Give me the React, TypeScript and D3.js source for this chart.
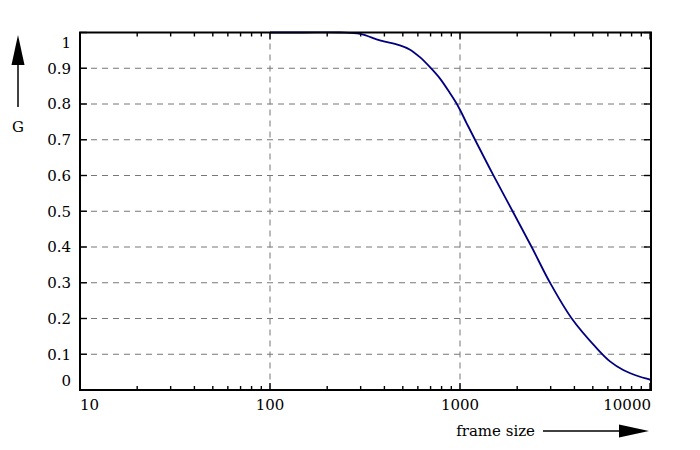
import React, { useEffect, useRef } from "react";
import * as d3 from "d3";

// frame size vs G
const frameSize = [100, 150, 234, 298, 379, 483, 546, 615, 695, 785, 886, 979, 1084, 1224, 1497, 1892, 2383, 2977, 3873, 5236, 6155, 7228, 8855, 10000, 10120];
const gain = [1.0, 1.0, 1.0, 0.996, 0.978, 0.964, 0.952, 0.931, 0.903, 0.871, 0.83, 0.793, 0.746, 0.691, 0.601, 0.5, 0.4, 0.3, 0.2, 0.117, 0.08, 0.056, 0.037, 0.029, 0.027];

const yTicks = [0, 0.1, 0.2, 0.3, 0.4, 0.5, 0.6, 0.7, 0.8, 0.9, 1];
const xMajor = [10, 100, 1000, 10000];
const xLabels = ["10", "100", "1000", "10000"];

const App: React.FC = () => {
  const svgRef = useRef<SVGSVGElement | null>(null);

  useEffect(() => {
    const width = 700;
    const height = 450;
    const left = 80;
    const right = 651;
    const top = 32.5;
    const bottom = 390;
    const font = "'DejaVu Serif', 'Liberation Serif', serif";

    const x = d3.scaleLog().domain([10, 10120]).range([left, right]);
    const y = d3.scaleLinear().domain([0, 1]).range([bottom, top]);

    const svg = d3
      .select(svgRef.current)
      .attr("width", width)
      .attr("height", height)
      .attr("viewBox", [0, 0, width, height].join(" "));
    svg.selectAll("*").remove();

    svg.append("rect").attr("width", width).attr("height", height).attr("fill", "white");

    // grid
    const grid = svg.append("g").attr("stroke", "#777").attr("stroke-width", 1).attr("stroke-dasharray", "6,5");
    grid
      .selectAll(".gy")
      .data(yTicks.filter((t) => t > 0 && t < 1))
      .enter()
      .append("line")
      .attr("x1", left)
      .attr("x2", right)
      .attr("y1", (d) => y(d))
      .attr("y2", (d) => y(d));
    grid
      .selectAll(".gx")
      .data([100, 1000])
      .enter()
      .append("line")
      .attr("x1", (d) => x(d))
      .attr("x2", (d) => x(d))
      .attr("y1", top)
      .attr("y2", bottom);

    // ticks (inward, on all four sides)
    const minor: number[] = [];
    [10, 100, 1000].forEach((dec) => {
      for (let k = 2; k <= 9; k++) minor.push(dec * k);
    });
    const ticks = svg.append("g").attr("stroke", "black").attr("stroke-width", 1.4);
    minor.forEach((m) => {
      ticks.append("line").attr("x1", x(m)).attr("x2", x(m)).attr("y1", bottom).attr("y2", bottom - 4);
      ticks.append("line").attr("x1", x(m)).attr("x2", x(m)).attr("y1", top).attr("y2", top + 4);
    });
    xMajor.forEach((m) => {
      ticks.append("line").attr("x1", x(m)).attr("x2", x(m)).attr("y1", bottom).attr("y2", bottom - 7);
      ticks.append("line").attr("x1", x(m)).attr("x2", x(m)).attr("y1", top).attr("y2", top + 7);
    });
    yTicks.forEach((t) => {
      ticks.append("line").attr("x1", left).attr("x2", left + 7).attr("y1", y(t)).attr("y2", y(t));
      ticks.append("line").attr("x1", right).attr("x2", right - 7).attr("y1", y(t)).attr("y2", y(t));
    });

    // curve
    const line = d3
      .line<number>()
      .x((d) => x(d))
      .y((_, i) => y(gain[i]))
      .curve(d3.curveCatmullRom.alpha(0.5));
    svg
      .append("path")
      .datum(frameSize)
      .attr("d", line)
      .attr("fill", "none")
      .attr("stroke", "#000080")
      .attr("stroke-width", 1.8);

    // frame
    svg
      .append("rect")
      .attr("x", left)
      .attr("y", top)
      .attr("width", right - left)
      .attr("height", bottom - top)
      .attr("fill", "none")
      .attr("stroke", "black")
      .attr("stroke-width", 2);

    // y labels
    svg
      .append("g")
      .selectAll("text")
      .data(yTicks)
      .enter()
      .append("text")
      .attr("x", 71)
      .attr("y", (d) => y(d) + (d === 1 ? 10 : d === 0 ? -9 : 0))
      .attr("dy", "0.35em")
      .attr("text-anchor", "end")
      .attr("font-family", font)
      .attr("font-size", 15)
      .text((d) => d3.format("~g")(d));

    // x labels
    svg
      .append("g")
      .selectAll("text")
      .data(xMajor)
      .enter()
      .append("text")
      .attr("x", (d, i) => (i === 0 ? left : i === xMajor.length - 1 ? right : x(d)))
      .attr("y", 405)
      .attr("dy", "0.35em")
      .attr("text-anchor", (_, i) => (i === 0 ? "start" : i === xMajor.length - 1 ? "end" : "middle"))
      .attr("font-family", font)
      .attr("font-size", 15)
      .text((_, i) => xLabels[i]);

    // y title with arrow
    svg.append("line").attr("x1", 18).attr("x2", 18).attr("y1", 107).attr("y2", 60).attr("stroke", "black").attr("stroke-width", 1.5);
    svg.append("path").attr("d", "M18,35 L24.5,65 L11.5,65 Z").attr("fill", "black");
    svg
      .append("text")
      .attr("x", 18)
      .attr("y", 127)
      .attr("dy", "0.35em")
      .attr("text-anchor", "middle")
      .attr("font-family", font)
      .attr("font-size", 15)
      .text("G");

    // x title with arrow
    svg
      .append("text")
      .attr("x", 535)
      .attr("y", 431)
      .attr("dy", "0.35em")
      .attr("text-anchor", "end")
      .attr("font-family", font)
      .attr("font-size", 15)
      .text("frame size");
    svg.append("line").attr("x1", 543).attr("x2", 625).attr("y1", 431).attr("y2", 431).attr("stroke", "black").attr("stroke-width", 1.5);
    svg.append("path").attr("d", "M649,431 L619,424.5 L619,437.5 Z").attr("fill", "black");
  }, []);

  return (
    <div>
      <svg ref={svgRef} style={{ position: "absolute", left: 0, top: 0 }}></svg>
    </div>
  );
};

export default App;
